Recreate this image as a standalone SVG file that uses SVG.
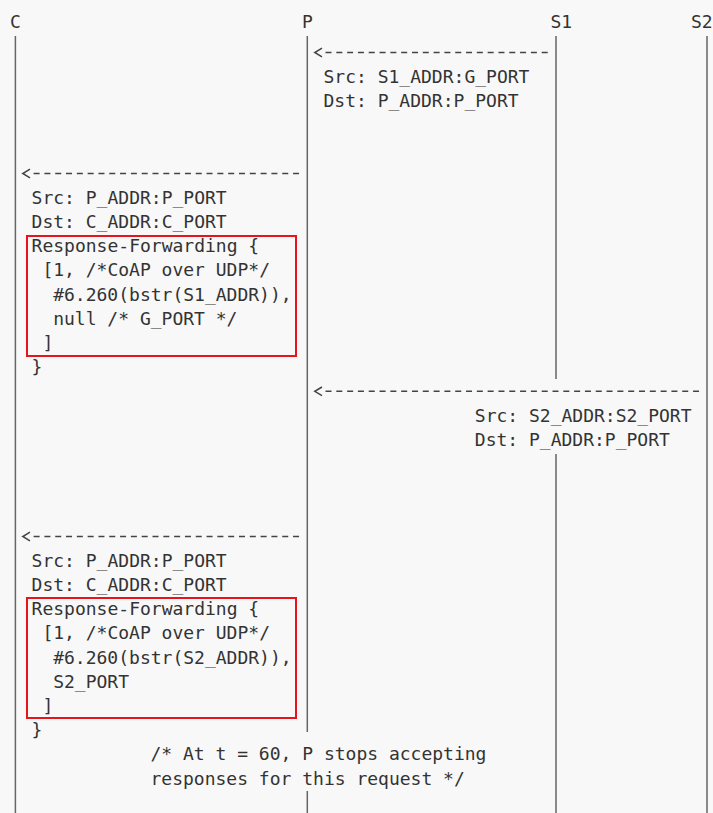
<svg xmlns="http://www.w3.org/2000/svg" width="713" height="813" viewBox="0 0 713 813">
<style>
text{font-family:"DejaVu Sans Mono","Liberation Mono",monospace;font-size:18px;fill:#333}
.life{stroke:#666;stroke-width:1.5;fill:none}
.dash{stroke:#444;stroke-width:1.6;stroke-dasharray:6 4.81;fill:none}
.head{stroke:#444;stroke-width:1.5;fill:none}
.box{fill:none;stroke:#e8141b;stroke-width:2}
</style>
<rect width="713" height="813" fill="#f8f8f8"/>
<g id="C">
<text x="10" y="28">C</text>
<line class="life" x1="15.4" y1="36" x2="15.4" y2="813"/>
</g>
<g id="P">
<text x="301.9" y="28">P</text>
<path class="life" d="M307.3 36V732M307.3 791V813"/>
</g>
<g id="S1">
<text x="550.5" y="28">S1</text>
<path class="life" d="M556 36V379M556 454V813"/>
</g>
<g id="S2">
<text x="691" y="28">S2</text>
<line class="life" x1="707" y1="36" x2="707" y2="813"/>
</g>
<g id="connectors">
<path class="dash" d="M325.5 52.5H550"/>
<path class="head" d="M322 48.2L314.8 52.5L322 56.8"/>
<path class="dash" d="M33.6 173.5H302"/>
<path class="head" d="M30 169.2L22.8 173.5L30 177.8"/>
<path class="dash" d="M325.5 391.3H701"/>
<path class="head" d="M322 387L314.8 391.3L322 395.6"/>
<path class="dash" d="M33.6 536.5H302"/>
<path class="head" d="M30 532.2L22.8 536.5L30 540.8"/>
</g>
<g id="msg1">
<text x="323.5" y="82.7">Src: S1_ADDR:G_PORT</text>
<text x="323.5" y="106.9">Dst: P_ADDR:P_PORT</text>
</g>
<g id="msg2">
<text x="31.6" y="203.7">Src: P_ADDR:P_PORT</text>
<text x="31.6" y="227.9">Dst: C_ADDR:C_PORT</text>
<text x="31.6" y="252.1">Response-Forwarding {</text>
<text x="42.4" y="276.3">[1, /*CoAP over UDP*/</text>
<text x="53.2" y="300.5">#6.260(bstr(S1_ADDR)),</text>
<text x="53.2" y="324.7">null /* G_PORT */</text>
<text x="42.4" y="348.9">]</text>
<text x="31.6" y="373.1">}</text>
<rect class="box" x="27" y="236" width="269" height="120"/>
</g>
<g id="msg3">
<text x="474.8" y="421.5">Src: S2_ADDR:S2_PORT</text>
<text x="474.8" y="445.7">Dst: P_ADDR:P_PORT</text>
</g>
<g id="msg4">
<text x="31.6" y="566.7">Src: P_ADDR:P_PORT</text>
<text x="31.6" y="590.9">Dst: C_ADDR:C_PORT</text>
<text x="31.6" y="615.1">Response-Forwarding {</text>
<text x="42.4" y="639.3">[1, /*CoAP over UDP*/</text>
<text x="53.2" y="663.5">#6.260(bstr(S2_ADDR)),</text>
<text x="53.2" y="687.7">S2_PORT</text>
<text x="42.4" y="711.9">]</text>
<text x="31.6" y="736.1">}</text>
<rect class="box" x="27" y="598" width="269" height="120"/>
</g>
<g id="note">
<text x="150.5" y="760.3">/* At t = 60, P stops accepting</text>
<text x="150.5" y="784.5">responses for this request */</text>
</g>
</svg>
